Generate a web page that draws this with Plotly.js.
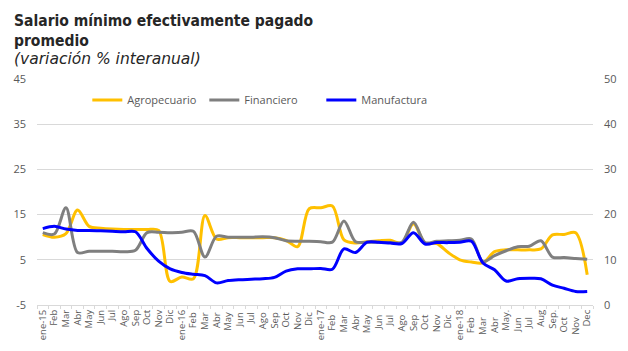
<!DOCTYPE html>
<html>
<head>
<meta charset="utf-8">
<script src="https://cdn.plot.ly/plotly-3.0.1.min.js"></script>
<style>html,body{margin:0;padding:0;background:#fff;}#chart{width:628px;height:351px;}</style>
</head>
<body>
<div id="chart"></div>
<script>
const months = ["ene-15","Feb","Mar","Abr","May","Jun","Jul","Ago","Sep","Oct","Nov","Dic",
  "ene-16","Feb ","Mar ","Abr ","May ","Jun ","Jul ","Ago ","Sep ","Oct ","Nov ","Dic ",
  "ene-17","Feb  ","Mar  ","Abr  ","May  ","Jun  ","Jul  ","Ago  ","Sep  ","Oct  ","Nov  ","Dic  ",
  "ene-18","Feb   ","Mar   ","Abr   ","May.","Jun   ","Jul   ","Aug","Sep.","Oct   ","Nov   ","Dec"];

const agropecuario = [10.6,10.0,10.8,16.0,12.4,12.0,11.8,11.7,11.7,11.7,11.5,0.2,
  1.2,0.8,14.8,9.6,9.9,9.9,9.9,9.9,9.9,9.3,7.9,16.3,
  16.5,16.9,9.4,8.7,9.0,9.2,9.3,8.7,13.0,8.7,8.6,6.6,
  5.0,4.5,4.3,6.8,7.2,7.2,7.2,7.4,10.5,10.6,11.0,1.7];

const financiero = [11.0,10.7,16.5,6.6,6.9,6.9,6.9,6.8,7.1,11.0,11.1,11.0,
  11.1,11.3,5.6,10.2,10.0,10.0,10.0,10.1,9.9,9.2,9.1,9.1,
  9.0,8.9,13.6,9.0,8.9,8.9,8.8,8.9,13.3,8.8,9.1,9.2,
  9.3,9.6,4.6,5.9,7.0,7.9,8.0,9.2,5.6,5.5,5.3,5.1];

const manufactura = [11.9,12.4,11.8,11.5,11.5,11.4,11.3,11.2,11.2,7.5,4.7,3.0,
  2.2,1.8,1.5,-0.1,0.4,0.6,0.7,0.8,1.1,2.5,3.0,3.0,
  3.1,2.9,7.4,6.6,8.9,8.9,8.7,8.6,11.0,8.5,8.8,8.8,
  8.9,9.1,4.3,2.8,0.3,0.8,0.9,0.8,-0.6,-1.3,-2.0,-2.0];

const leftTicks = [-5,5,15,25,35,45];
const rightTicks = [0,10,20,30,40,50];

function tr(name, y, color) {
  return {x: months, y: y, name: name, type: 'scatter', mode: 'lines',
    line: {color: color, width: 3, shape: 'spline', smoothing: 0.9}, hoverinfo: 'skip'};
}

const data = [
  tr('Agropecuario', agropecuario, '#FFC000'),
  tr('Financiero', financiero, '#7F7F7F'),
  tr('Manufactura', manufactura, '#0000FF'),
  {x: [], y: [], yaxis: 'y2', type: 'scatter', mode: 'lines', showlegend: false, hoverinfo: 'skip'}
];

const tickFont = {family: 'Open Sans, DejaVu Sans, sans-serif', size: 11, color: '#595959'};

const layout = {
  width: 628, height: 351,
  margin: {l: 37, r: 35, t: 79, b: 46},
  paper_bgcolor: '#fff', plot_bgcolor: '#fff',
  showlegend: true,
  legend: {orientation: 'h', x: 0.0905, xanchor: 'left', y: 0.907, yanchor: 'middle',
    font: {family: 'Open Sans, DejaVu Sans, sans-serif', size: 11, color: '#595959'},
    bgcolor: 'rgba(0,0,0,0)', entrywidth: 72, entrywidthmode: 'pixels', tracegroupgap: 0},
  xaxis: {type: 'category', range: [-0.5, 47.5], tickangle: -90,
    tickfont: {family: 'Open Sans, DejaVu Sans, sans-serif', size: 9.5, color: '#595959'},
    showgrid: false, showline: true, linecolor: '#D9D9D9', linewidth: 1,
    ticks: 'outside', ticklen: 3, tickcolor: '#D9D9D9', tickson: 'boundaries',
    zeroline: false, fixedrange: true},
  yaxis: {range: [-5, 45], tickvals: leftTicks, ticktext: leftTicks.map(String),
    tickfont: tickFont, showgrid: true, gridcolor: '#D9D9D9', gridwidth: 1,
    zeroline: false, showline: false, ticks: '', ticklabelstandoff: 10, fixedrange: true},
  yaxis2: {range: [0, 50], tickvals: rightTicks, ticktext: rightTicks.map(String),
    overlaying: 'y', side: 'right', anchor: 'x', tickfont: tickFont,
    showgrid: false, zeroline: false, showline: false, ticks: '', ticklabelstandoff: 10, fixedrange: true},
  annotations: [
    {xref: 'paper', yref: 'paper', x: -0.045, y: 1.305, xanchor: 'left', yanchor: 'top', align: 'left',
      showarrow: false,
      text: '<b>Salario mínimo efectivamente pagado<br>promedio</b>',
      font: {family: 'DejaVu Sans Condensed, DejaVu Sans, sans-serif', size: 15.5, color: '#262626'}},
    {xref: 'paper', yref: 'paper', x: -0.045, y: 1.135, xanchor: 'left', yanchor: 'top', align: 'left',
      showarrow: false,
      text: '<i>(variación % interanual)</i>',
      font: {family: 'DejaVu Sans, Verdana, sans-serif', size: 15.5, color: '#262626'}}
  ]
};

Plotly.newPlot('chart', data, layout, {displayModeBar: false, staticPlot: true});
</script>
</body>
</html>
